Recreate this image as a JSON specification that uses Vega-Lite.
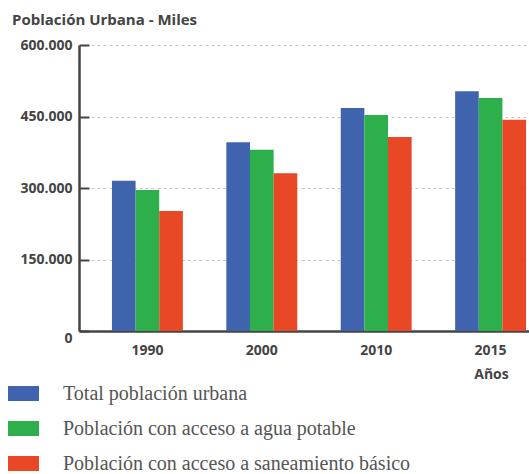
{
  "$schema": "https://vega.github.io/schema/vega-lite/v6.json",
  "width": 480,
  "height": 286,
  "autosize": {"type": "none"},
  "padding": {"left": 79, "top": 45, "right": 0, "bottom": 143},
  "background": "white",
  "title": {
    "text": "Población Urbana - Miles",
    "anchor": "start",
    "frame": "group",
    "dx": -67,
    "offset": 10,
    "font": "Open Sans",
    "fontSize": 15,
    "fontWeight": "bold",
    "color": "#444444"
  },
  "data": {
    "values": [
      {"year": "1990", "serie": "Total población urbana", "value": 315000},
      {"year": "1990", "serie": "Población con acceso a agua potable", "value": 296000},
      {"year": "1990", "serie": "Población con acceso a saneamiento básico", "value": 252000},
      {"year": "2000", "serie": "Total población urbana", "value": 396000},
      {"year": "2000", "serie": "Población con acceso a agua potable", "value": 380000},
      {"year": "2000", "serie": "Población con acceso a saneamiento básico", "value": 331000},
      {"year": "2010", "serie": "Total población urbana", "value": 468000},
      {"year": "2010", "serie": "Población con acceso a agua potable", "value": 453000},
      {"year": "2010", "serie": "Población con acceso a saneamiento básico", "value": 407000},
      {"year": "2015", "serie": "Total población urbana", "value": 503000},
      {"year": "2015", "serie": "Población con acceso a agua potable", "value": 489000},
      {"year": "2015", "serie": "Población con acceso a saneamiento básico", "value": 443000}
    ]
  },
  "mark": {"type": "bar"},
  "encoding": {
    "x": {
      "field": "year",
      "type": "nominal",
      "scale": {"paddingInner": 0.38, "paddingOuter": 0.288},
      "axis": {
        "title": "Años",
        "titleX": 412,
        "titleY": 47,
        "titleAlign": "center",
        "titleBaseline": "alphabetic",
        "titleFont": "Open Sans",
        "titleFontSize": 14,
        "titleFontWeight": "bold",
        "titleColor": "#444444",
        "labelAngle": 0,
        "labelFont": "Open Sans",
        "labelFontSize": 14,
        "labelFontWeight": "bold",
        "labelColor": "#444444",
        "labelPadding": 12,
        "ticks": false,
        "domainColor": "#444444",
        "domainWidth": 2.5,
        "grid": false
      }
    },
    "xOffset": {
      "field": "serie",
      "type": "nominal",
      "scale": {
        "domain": ["Total población urbana", "Población con acceso a agua potable", "Población con acceso a saneamiento básico"]
      }
    },
    "y": {
      "field": "value",
      "type": "quantitative",
      "scale": {"domain": [0, 600000]},
      "axis": {
        "title": null,
        "values": [0, 150000, 300000, 450000, 600000],
        "labelExpr": "replace(format(datum.value, ','), ',', '.')",
        "labelFont": "Open Sans",
        "labelFontSize": 14,
        "labelFontWeight": "bold",
        "labelColor": "#444444",
        "labelBaseline": {"expr": "datum.value == 0 ? 'top' : 'middle'"},
        "tickSize": -10,
        "tickWidth": 2,
        "tickColor": "#444444",
        "labelPadding": 17,
        "domainColor": "#444444",
        "domainWidth": 2.5,
        "grid": true,
        "gridDash": [3, 3],
        "gridColor": "#c8c8c8",
        "gridWidth": 1
      }
    },
    "color": {
      "field": "serie",
      "type": "nominal",
      "scale": {
        "domain": ["Total población urbana", "Población con acceso a agua potable", "Población con acceso a saneamiento básico"],
        "range": ["#3F63AD", "#2DB04B", "#E84825"]
      },
      "legend": {
        "title": null,
        "orient": "none",
        "legendX": -71,
        "legendY": 333,
        "direction": "vertical",
        "symbolType": "M-1,-0.484H1V0.484H-1Z",
        "symbolSize": 961,
        "symbolStrokeWidth": 0,
        "symbolOpacity": 1,
        "labelFont": "Liberation Serif",
        "labelFontSize": 20,
        "labelColor": "#555555",
        "labelOffset": 24,
        "labelLimit": 500,
        "rowPadding": 9,
        "padding": 0
      }
    }
  },
  "config": {
    "view": {"stroke": null},
    "bar": {"opacity": 1}
  }
}
